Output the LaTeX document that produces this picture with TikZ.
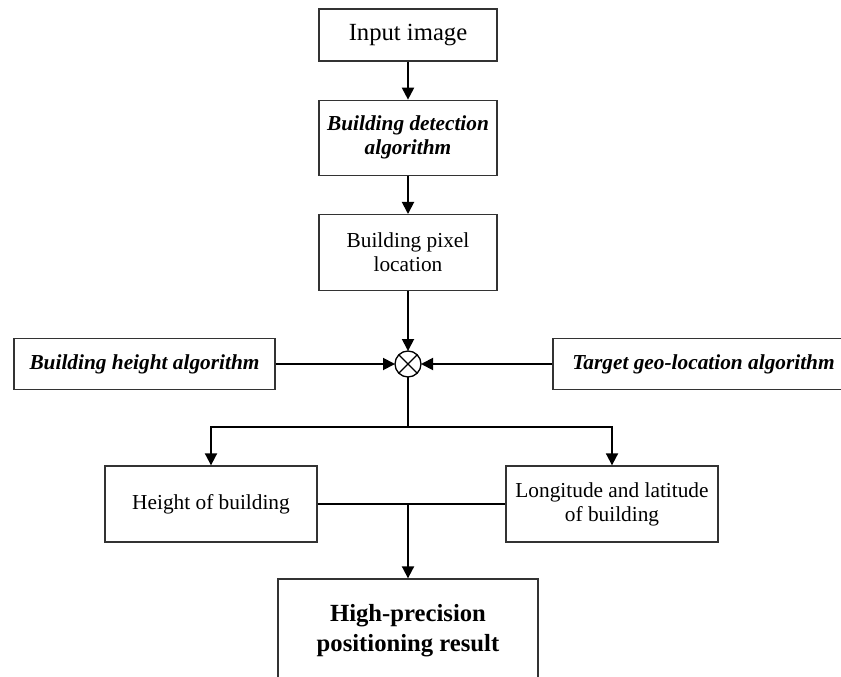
\documentclass[tikz,border=0pt]{standalone}
\usepackage{fontspec}
\setmainfont{Liberation Serif}
\usetikzlibrary{positioning, arrows.meta}

\begin{document}
\begin{tikzpicture}[x=0.75pt,y=-0.75pt,node distance=28.5pt,
                     >={Triangle[length=9pt,width=9pt]},
                     box/.style={draw=black!80,
                         line width=1pt,
                         align=center,
                         inner sep=2pt,
                         font=\fontsize{16}{18}\selectfont,
                         minimum width=133.5pt,
                         minimum height=57pt},
                     big/.style={box,
                         font=\fontsize{18.5}{22.5}\selectfont},
                     alg/.style={box,
                         font=\fontsize{16}{18}\selectfont\bfseries\itshape},
                     res/.style={box,
                         font=\fontsize{18.5}{22.5}\selectfont\bfseries},
                     sum/.style={circle,
                         draw,
                         line width=1pt,
                         minimum size=19.5pt,
                         inner sep=0pt,
                         outer sep=0pt},
                     wire/.style={line width=1.4pt}]
    \useasboundingbox (0,0) rectangle (841,677);
    \clip (0,0) rectangle (841,677);
    % central column
    \node[big, minimum height=39pt](inp) at (408,35) {Input image};
    \node[alg, below=of inp, minimum height=56.25pt](det) {Building detection\\algorithm};
    \node[box, below=of det](pix) {Building pixel\\location};
    \node[sum](sum) at (408,364) {};
    \draw[line width=1pt] (sum.north east) -- (sum.south west)
                          (sum.north west) -- (sum.south east);
    % side inputs
    \node[alg, minimum width=195.75pt, minimum height=38.25pt](hgt) at (144.5,364) {Building height algorithm};
    \node[alg, minimum width=225.75pt, minimum height=38.25pt](geo) at (703.5,364) {Target geo-location algorithm};
    % outputs
    \node[box, minimum width=159pt](hob) at (211,504) {Height of building};
    \node[box, minimum width=159pt](lon) at (612,504) {Longitude and latitude\\of building};
    \node[res, minimum width=195pt, minimum height=78pt](out) at (408,631) {High-precision\\positioning result};
    \coordinate (split) at (408,427);
    \coordinate (join) at (408,504);
    \foreach \u / \v in {inp/det,det/pix,pix/sum,hgt/sum,geo/sum}
        \draw[->, wire] (\u) -- (\v);
    \draw[wire] (sum) -- (split);
    \draw[->, wire] (split) -| (hob);
    \draw[->, wire] (split) -| (lon);
    \draw[wire] (hob) -- (lon);
    \draw[->, wire] (join) -- (out);
\end{tikzpicture}
\end{document}
